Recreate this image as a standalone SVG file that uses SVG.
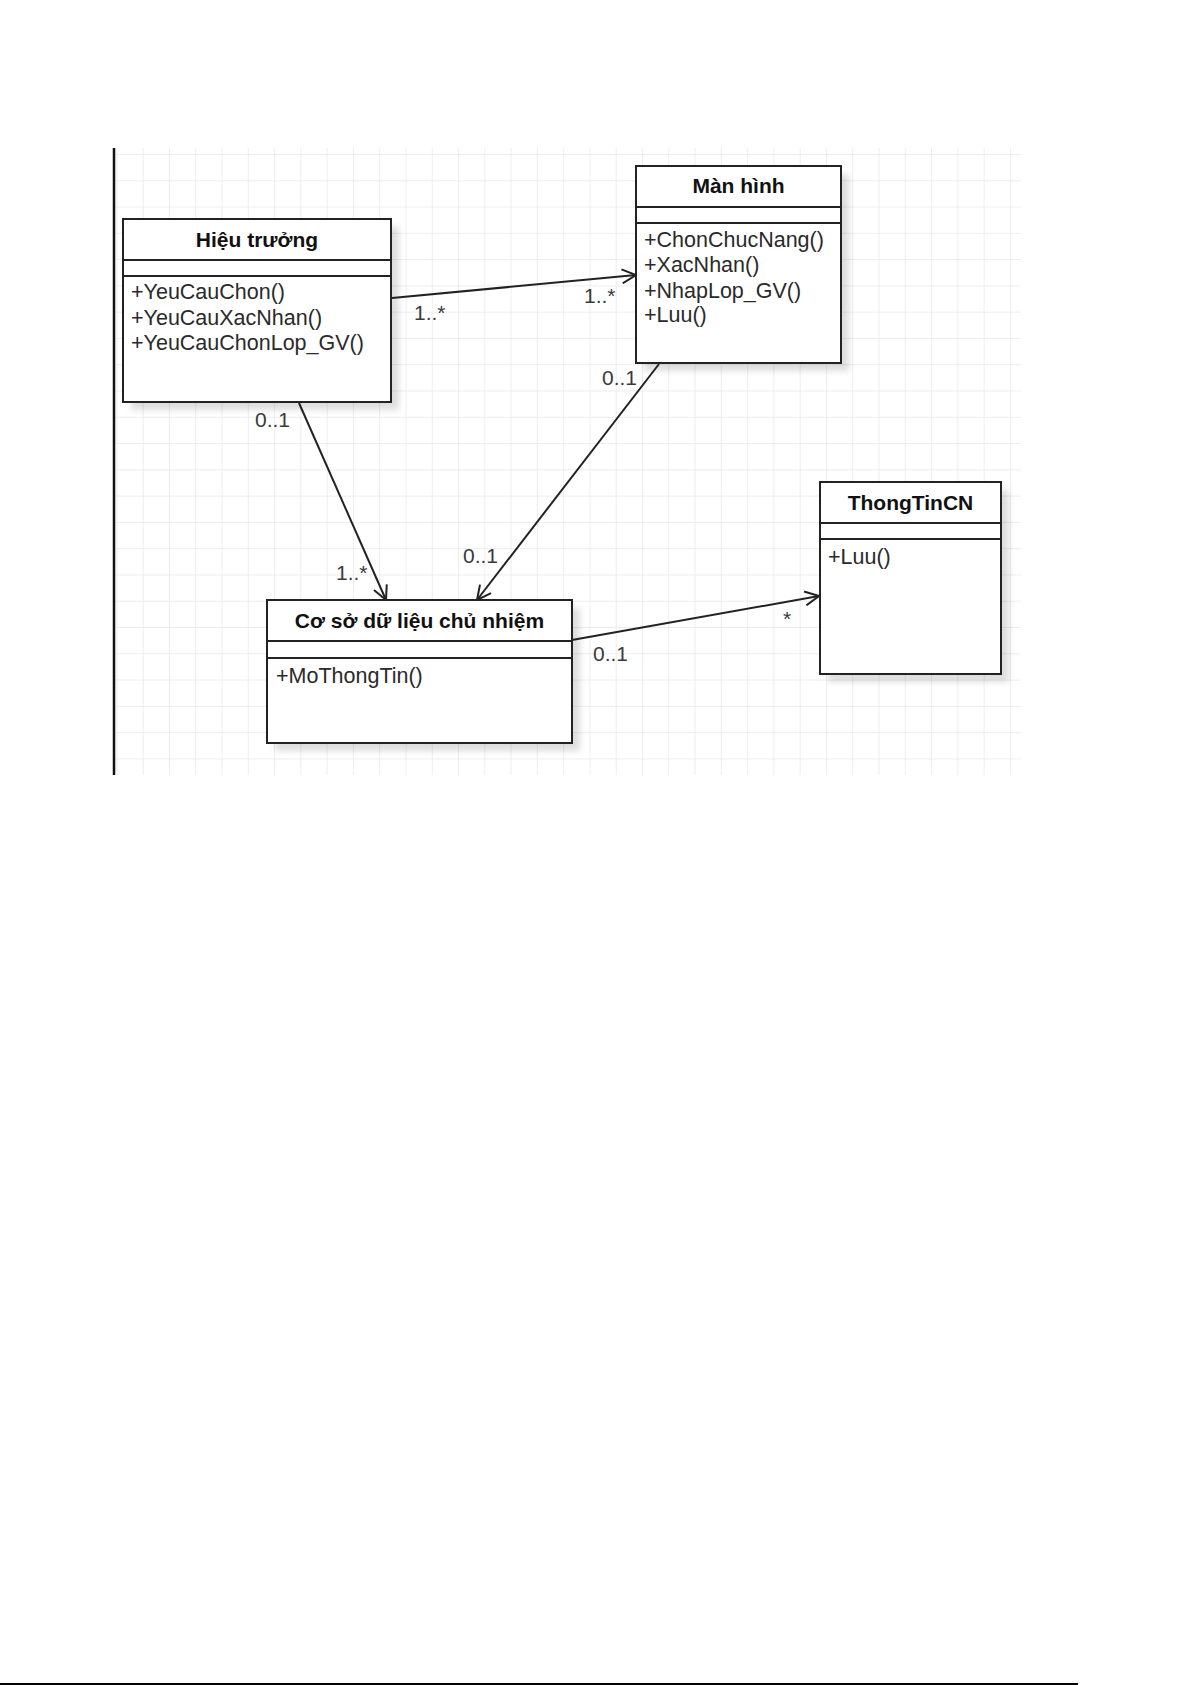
<svg xmlns="http://www.w3.org/2000/svg" width="1192" height="1685" viewBox="0 0 1192 1685">
<defs>
<pattern id="grid" x="116.4" y="127.7" width="26.28" height="26.28" patternUnits="userSpaceOnUse">
<path d="M0,0 H26.28 M0,0 V26.28" fill="none" stroke="#e8e8e8" stroke-width="1.5"/>
</pattern>
<filter id="shadow" x="-10%" y="-10%" width="130%" height="130%">
<feGaussianBlur stdDeviation="3"/>
</filter>
<marker id="open" viewBox="0 0 16 16" refX="15" refY="8" markerWidth="16" markerHeight="16" markerUnits="userSpaceOnUse" orient="auto">
<path d="M1,1 L15,8 L1,15" fill="none" stroke="#222" stroke-width="2"/>
</marker>
</defs>
<style>
.box{fill:#fff;stroke:#222;stroke-width:2}
.sh{fill:#000;opacity:0.13;filter:url(#shadow)}
.sep{stroke:#222;stroke-width:2}
.title{font-family:"Liberation Sans",Arial,sans-serif;font-size:21px;font-weight:bold;fill:#111;text-anchor:middle}
.m{font-family:"Liberation Sans",Arial,sans-serif;font-size:21.5px;fill:#2a2a2a}
.lbl{font-family:"Liberation Sans",Arial,sans-serif;font-size:21px;fill:#3a3a3a}
.edge{fill:none;stroke:#222;stroke-width:2;marker-end:url(#open)}
</style>
<rect width="1192" height="1685" fill="#fff"/>
<rect x="115" y="148" width="906" height="627" fill="url(#grid)"/>
<line x1="114" y1="148" x2="114" y2="775" stroke="#111" stroke-width="2.5"/>

<g id="hieu-truong">
<rect class="sh" x="131" y="227" width="268" height="183"/>
<rect class="box" x="123" y="219" width="268" height="183"/>
<line class="sep" x1="123" y1="260" x2="391" y2="260"/>
<line class="sep" x1="123" y1="276" x2="391" y2="276"/>
<text class="title" x="257" y="247">Hiệu trưởng</text>
<text class="m" x="131" y="299">+YeuCauChon()</text>
<text class="m" x="131" y="325">+YeuCauXacNhan()</text>
<text class="m" x="131" y="350">+YeuCauChonLop_GV()</text>
</g>

<g id="man-hinh">
<rect class="sh" x="644" y="174" width="205" height="197"/>
<rect class="box" x="636" y="166" width="205" height="197"/>
<line class="sep" x1="636" y1="207" x2="841" y2="207"/>
<line class="sep" x1="636" y1="223" x2="841" y2="223"/>
<text class="title" x="738.5" y="193">Màn hình</text>
<text class="m" x="644" y="247">+ChonChucNang()</text>
<text class="m" x="644" y="272">+XacNhan()</text>
<text class="m" x="644" y="298">+NhapLop_GV()</text>
<text class="m" x="644" y="322">+Luu()</text>
</g>

<g id="co-so-du-lieu">
<rect class="sh" x="275" y="608" width="305" height="143"/>
<rect class="box" x="267" y="600" width="305" height="143"/>
<line class="sep" x1="267" y1="641" x2="572" y2="641"/>
<line class="sep" x1="267" y1="658" x2="572" y2="658"/>
<text class="title" x="419.5" y="628">Cơ sở dữ liệu chủ nhiệm</text>
<text class="m" x="276" y="683">+MoThongTin()</text>
</g>

<g id="thong-tin-cn">
<rect class="sh" x="828" y="490" width="181" height="192"/>
<rect class="box" x="820" y="482" width="181" height="192"/>
<line class="sep" x1="820" y1="523" x2="1001" y2="523"/>
<line class="sep" x1="820" y1="539" x2="1001" y2="539"/>
<text class="title" x="910.5" y="510">ThongTinCN</text>
<text class="m" x="828" y="564">+Luu()</text>
</g>

<g id="connectors">
<line class="edge" x1="392" y1="298" x2="636" y2="275"/>
<line class="edge" x1="299" y1="403" x2="386" y2="600"/>
<line class="edge" x1="659" y1="364" x2="477" y2="600"/>
<line class="edge" x1="572" y1="640" x2="819" y2="596"/>
<text class="lbl" x="414" y="320">1..*</text>
<text class="lbl" x="584" y="303">1..*</text>
<text class="lbl" x="255" y="427">0..1</text>
<text class="lbl" x="602" y="385">0..1</text>
<text class="lbl" x="336" y="580">1..*</text>
<text class="lbl" x="463" y="563">0..1</text>
<text class="lbl" x="593" y="661">0..1</text>
<text class="lbl" x="783" y="626">*</text>
</g>

<line x1="0" y1="1684" x2="1078" y2="1684" stroke="#000" stroke-width="2"/>
</svg>
